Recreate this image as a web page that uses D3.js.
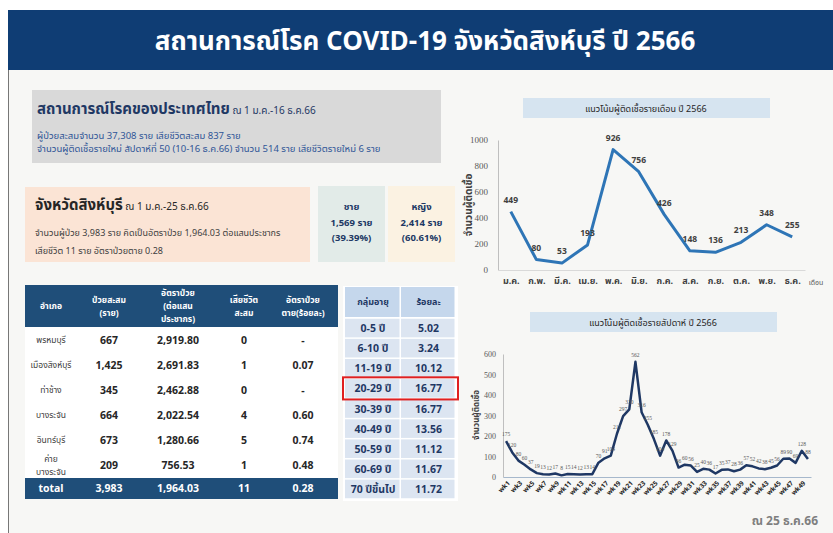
<!DOCTYPE html>
<html>
<head>
<meta charset="utf-8">
<script src="https://cdn.jsdelivr.net/npm/d3@7"></script>
<style>
  body { margin: 0; background: #fff; }
  svg text { font-family: Tahoma, "Noto Sans Thai", "Noto Sans", "DejaVu Sans", sans-serif; }
  .num { font-family: "Liberation Serif", "DejaVu Serif", serif !important; }
</style>
</head>
<body>
<svg id="chart"></svg>
<script>
// Monthly cases 2566
var months = ['ม.ค.','ก.พ.','มี.ค.','เม.ย.','พ.ค.','มิ.ย.','ก.ค.','ส.ค.','ก.ย.','ต.ค.','พ.ย.','ธ.ค.'];
var monthCases = [449, 80, 53, 193, 926, 756, 426, 148, 136, 213, 348, 255];
var monthTicks = [0, 200, 400, 600, 800, 1000];

// Weekly cases 2566
var weeks = ['wk1','wk2','wk3','wk4','wk5','wk6','wk7','wk8','wk9','wk10',
  'wk11','wk12','wk13','wk14','wk15','wk16','wk17','wk18','wk19','wk20',
  'wk21','wk22','wk23','wk24','wk25','wk26','wk27','wk28','wk29','wk30',
  'wk31','wk32','wk33','wk34','wk35','wk36','wk37','wk38','wk39','wk40',
  'wk41','wk42','wk43','wk44','wk45','wk46','wk47','wk48','wk49','wk50'];
var weekCases = [175, 120, 80, 60, 37, 19, 13, 12, 17, 8,
  15, 14, 12, 13, 14, 70, 91, 104, 211, 297,
  330, 562, 316, 255, 185, 104, 178, 129, 46, 60,
  56, 25, 40, 36, 17, 35, 37, 28, 36, 57,
  52, 42, 38, 45, 56, 89, 90, 69, 128, 88];
var weekTicks = [0, 100, 200, 300, 400, 500, 600];

// District table
var tableHead = [['อำเภอ'], ['ป่วยสะสม','(ราย)'], ['อัตราป่วย','(ต่อแสน','ประชากร)'], ['เสียชีวิต','สะสม'], ['อัตราป่วย','ตาย(ร้อยละ)']];
var districts = [['พรหมบุรี'], ['เมืองสิงห์บุรี'], ['ท่าช้าง'], ['บางระจัน'], ['อินทร์บุรี'], ['ค่าย','บางระจัน']];
var districtCases = ['667', '1,425', '345', '664', '673', '209'];
var districtRate = ['2,919.80', '2,691.83', '2,462.88', '2,022.54', '1,280.66', '756.53'];
var districtDeaths = ['0', '1', '0', '4', '5', '1'];
var districtCfr = ['-', '0.07', '-', '0.60', '0.74', '0.48'];
var totalRow = ['total', '3,983', '1,964.03', '11', '0.28'];

// Age table
var ageHead = ['กลุ่มอายุ', 'ร้อยละ'];
var ageGroups = ['0-5 ปี','6-10 ปี','11-19 ปี','20-29 ปี','30-39 ปี','40-49 ปี','50-59 ปี','60-69 ปี','70 ปีขึ้นไป'];
var agePct = ['5.02','3.24','10.12','16.77','16.77','13.56','11.12','11.67','11.72'];
var ageHighlight = '20-29 ปี';

var width = 833, height = 533;
var navy = '#1f4e79';

var svg = d3.select('#chart')
    .attr('width', width)
    .attr('height', height);

// Slide background + title bar
svg.append('rect').attr('width', width).attr('height', height).attr('fill', '#fff');
svg.append('rect').attr('x', 8).attr('y', 10).attr('width', width - 8).attr('height', height - 10).attr('fill', '#f7f7f5');
svg.append('line').attr('x1', 8.5).attr('x2', 8.5).attr('y1', 10).attr('y2', height).attr('stroke', '#777').attr('stroke-width', 1);
svg.append('rect').attr('x', 8).attr('y', 10).attr('width', width - 8).attr('height', 60).attr('fill', '#0f3d74');
svg.append('text')
    .attr('x', 425).attr('y', 50)
    .attr('text-anchor', 'middle')
    .attr('fill', '#fff')
    .attr('font-size', 26).attr('font-weight', 'bold')
    .text('สถานการณ์โรค COVID-19  จังหวัดสิงห์บุรี ปี 2566');

// Thailand box
svg.append('rect').attr('x', 32).attr('y', 90).attr('width', 409).attr('height', 73).attr('fill', '#d9d9d9');
var th = svg.append('text').attr('x', 37).attr('y', 114).attr('fill', '#1f3864');
th.append('tspan').attr('font-size', 15).attr('font-weight', 'bold').text('สถานการณ์โรคของประเทศไทย');
th.append('tspan').attr('font-size', 10).text(' ณ 1 ม.ค.-16 ธ.ค.66');
svg.append('text').attr('x', 37).attr('y', 139).attr('font-size', 9.5).attr('fill', '#2f5597')
    .text('ผู้ป่วยสะสมจำนวน 37,308 ราย เสียชีวิตสะสม 837 ราย');
svg.append('text').attr('x', 37).attr('y', 152).attr('font-size', 9.5).attr('fill', '#2f5597')
    .text('จำนวนผู้ติดเชื้อรายใหม่ สัปดาห์ที่ 50 (10-16 ธ.ค.66) จำนวน 514 ราย เสียชีวิตรายใหม่ 6 ราย');

// Province box
svg.append('rect').attr('x', 25).attr('y', 187).attr('width', 285).attr('height', 75).attr('fill', '#fbe4d5');
var pv = svg.append('text').attr('x', 35).attr('y', 210).attr('fill', '#262626');
pv.append('tspan').attr('font-size', 15).attr('font-weight', 'bold').text('จังหวัดสิงห์บุรี');
pv.append('tspan').attr('font-size', 10).text(' ณ 1 ม.ค.-25 ธ.ค.66');
svg.append('text').attr('x', 35).attr('y', 236).attr('font-size', 9).attr('fill', '#404040')
    .text('จำนวนผู้ป่วย 3,983 ราย คิดเป็นอัตราป่วย 1,964.03  ต่อแสนประชากร');
svg.append('text').attr('x', 35).attr('y', 254).attr('font-size', 9).attr('fill', '#404040')
    .text('เสียชีวิต 11 ราย อัตราป่วยตาย 0.28');

// Sex boxes
var sexBoxes = [
  {x: 318, fill: '#e2ebe8', lines: ['ชาย', '1,569 ราย', '(39.39%)']},
  {x: 388, fill: '#fbf2e2', lines: ['หญิง', '2,414 ราย', '(60.61%)']}
];
sexBoxes.forEach(function(b) {
  svg.append('rect').attr('x', b.x).attr('y', 186).attr('width', 67).attr('height', 76).attr('fill', b.fill);
  var t = svg.append('text').attr('text-anchor', 'middle').attr('fill', '#203864')
      .attr('font-size', 9.5).attr('font-weight', 'bold');
  b.lines.forEach(function(l, i) {
    t.append('tspan').attr('x', b.x + 33.5).attr('y', 210 + i * 15.5).text(l);
  });
});

// District table
var colX = [51, 109, 178, 244, 303];
svg.append('rect').attr('x', 25).attr('y', 285).attr('width', 313).attr('height', 42).attr('fill', navy);
svg.append('rect').attr('x', 25).attr('y', 327).attr('width', 313).attr('height', 151).attr('fill', '#fff');
svg.append('rect').attr('x', 25).attr('y', 478).attr('width', 313).attr('height', 21).attr('fill', navy);

tableHead.forEach(function(lines, i) {
  var t = svg.append('text').attr('text-anchor', 'middle').attr('fill', '#fff')
      .attr('font-size', 8.5).attr('font-weight', 'bold');
  var y0 = 306 - (lines.length - 1) * 6.5;
  lines.forEach(function(l, j) {
    t.append('tspan').attr('x', colX[i]).attr('y', y0 + j * 13 + 3).text(l);
  });
});

var rowY = d3.scaleBand().domain(d3.range(districts.length)).range([327, 478]);
districts.forEach(function(lines, i) {
  var cy = rowY(i) + rowY.bandwidth() / 2;
  var t = svg.append('text').attr('text-anchor', 'middle').attr('fill', '#404040').attr('font-size', 8.5);
  lines.forEach(function(l, j) {
    t.append('tspan').attr('x', colX[0]).attr('y', cy + 3 + (j - (lines.length - 1) / 2) * 13).text(l);
  });
  [districtCases[i], districtRate[i], districtDeaths[i], districtCfr[i]].forEach(function(v, k) {
    svg.append('text').attr('x', colX[k + 1]).attr('y', cy + 4)
        .attr('text-anchor', 'middle').attr('fill', '#262626')
        .attr('font-size', 10.5).attr('font-weight', 'bold').text(v);
  });
});
totalRow.forEach(function(v, k) {
  svg.append('text').attr('x', colX[k]).attr('y', 492)
      .attr('text-anchor', 'middle').attr('fill', '#fff')
      .attr('font-size', 10.5).attr('font-weight', 'bold').text(v);
});

// Age table
var ageX = [345, 401, 456];
var ageY = d3.scaleBand().domain(ageGroups).range([318, 499]);
svg.append('rect').attr('x', 343).attr('y', 286).attr('width', 115).attr('height', 215).attr('fill', '#fff');
ageHead.forEach(function(h, k) {
  svg.append('rect').attr('x', ageX[k]).attr('y', 287).attr('width', ageX[k + 1] - ageX[k] - 1.5).attr('height', 30)
      .attr('fill', '#c5d7ec');
  svg.append('text').attr('x', (ageX[k] + ageX[k + 1]) / 2).attr('y', 305)
      .attr('text-anchor', 'middle').attr('fill', '#1f3864').attr('font-size', 9).attr('font-weight', 'bold').text(h);
});
ageGroups.forEach(function(g, i) {
  var y = ageY(g);
  [g, agePct[i]].forEach(function(v, k) {
    svg.append('rect').attr('x', ageX[k]).attr('y', y + 0.75).attr('width', ageX[k + 1] - ageX[k] - 1.5)
        .attr('height', ageY.bandwidth() - 1.5).attr('fill', '#dce5f1');
    svg.append('text').attr('x', (ageX[k] + ageX[k + 1]) / 2).attr('y', y + ageY.bandwidth() / 2 + 4)
        .attr('text-anchor', 'middle').attr('fill', '#1f3864').attr('font-size', 10.5).attr('font-weight', 'bold').text(v);
  });
});
svg.append('rect').attr('x', 343).attr('y', ageY(ageHighlight) - 1).attr('width', 115).attr('height', ageY.bandwidth() + 2)
    .attr('fill', 'none').attr('stroke', '#e02020').attr('stroke-width', 2);

// ---------- Monthly chart ----------
svg.append('rect').attr('x', 523).attr('y', 98).attr('width', 247).attr('height', 20).attr('fill', '#d6e4f0');
svg.append('text').attr('x', 646).attr('y', 112).attr('text-anchor', 'middle').attr('font-size', 9)
    .attr('fill', '#262626').text('แนวโน้มผู้ติดเชื้อรายเดือน ปี 2566');

var xM = d3.scalePoint().domain(months).range([498, 805]).padding(0.5);
var yM = d3.scaleLinear().domain([0, 1000]).range([270, 140]);

var gMy = svg.append('g').attr('transform', 'translate(498,0)')
    .call(d3.axisLeft(yM).tickValues(monthTicks).tickFormat(d3.format('d')).tickSize(0).tickPadding(10));
gMy.select('.domain').attr('stroke', '#bfbfbf');
gMy.selectAll('text').attr('class', 'num').attr('font-size', 9).attr('fill', '#595959');

var gMx = svg.append('g').attr('transform', 'translate(0,270)')
    .call(d3.axisBottom(xM).tickSize(0).tickPadding(8));
gMx.select('.domain').attr('stroke', '#d9d9d9');
gMx.selectAll('text').attr('font-size', 9).attr('font-weight', 'bold').attr('fill', '#404040');
svg.append('text').attr('x', 816).attr('y', 285).attr('text-anchor', 'middle').attr('font-size', 7)
    .attr('fill', '#595959').text('เดือน');
svg.append('text').attr('transform', 'translate(472,205) rotate(-90)').attr('text-anchor', 'middle')
    .attr('font-size', 10).attr('font-weight', 'bold').attr('fill', '#404040').text('จำนวนผู้ติดเชื้อ');

svg.append('path')
    .datum(monthCases)
    .attr('fill', 'none').attr('stroke', '#2e75b6').attr('stroke-width', 3).attr('stroke-linejoin', 'round')
    .attr('d', d3.line().x(function(d, i) { return xM(months[i]); }).y(function(d) { return yM(d); }));
svg.selectAll('.mlab').data(monthCases).enter().append('text')
    .attr('class', 'mlab')
    .attr('x', function(d, i) { return xM(months[i]); })
    .attr('y', function(d) { return yM(d) - 9; })
    .attr('text-anchor', 'middle').attr('font-size', 8.5).attr('font-weight', 'bold').attr('fill', '#404040')
    .text(function(d) { return d; });

// ---------- Weekly chart ----------
svg.append('rect').attr('x', 530).attr('y', 312).attr('width', 247).attr('height', 20).attr('fill', '#d6e4f0');
svg.append('text').attr('x', 653).attr('y', 326).attr('text-anchor', 'middle').attr('font-size', 9)
    .attr('fill', '#262626').text('แนวโน้มผู้ติดเชื้อรายสัปดาห์ ปี 2566');

var xW = d3.scalePoint().domain(weeks).range([503, 811]).padding(0.5);
var yW = d3.scaleLinear().domain([0, 600]).range([477, 354]);

var gWy = svg.append('g').attr('transform', 'translate(503,0)')
    .call(d3.axisLeft(yW).tickValues(weekTicks).tickSize(0).tickPadding(7));
gWy.select('.domain').attr('stroke', '#bfbfbf');
gWy.selectAll('text').attr('class', 'num').attr('font-size', 8).attr('fill', '#595959');

var gWx = svg.append('g').attr('transform', 'translate(0,477)')
    .call(d3.axisBottom(xW).tickValues(weeks.filter(function(d, i) { return i % 2 === 0; })).tickSize(0).tickPadding(4));
gWx.select('.domain').attr('stroke', '#a6b8cc');
gWx.selectAll('text')
    .attr('font-size', 6.5).attr('font-weight', 'bold').attr('fill', '#262626')
    .attr('text-anchor', 'end')
    .attr('dy', '0.5em')
    .attr('transform', 'rotate(-45) translate(-2,0)');
svg.append('text').attr('transform', 'translate(479,415) rotate(-90)').attr('text-anchor', 'middle')
    .attr('font-size', 8).attr('font-weight', 'bold').attr('fill', '#404040').text('จำนวนผู้ติดเชื้อ');

svg.append('path')
    .datum(weekCases)
    .attr('fill', 'none').attr('stroke', '#1f3864').attr('stroke-width', 2.5).attr('stroke-linejoin', 'round')
    .attr('d', d3.line().x(function(d, i) { return xW(weeks[i]); }).y(function(d) { return yW(d); }));
svg.selectAll('.wlab').data(weekCases).enter().append('text')
    .attr('class', 'wlab num')
    .attr('x', function(d, i) { return xW(weeks[i]); })
    .attr('y', function(d) { return yW(d) - 5; })
    .attr('text-anchor', 'middle').attr('font-size', 5.5).attr('fill', '#595959')
    .text(function(d) { return d; });

// Date stamp
svg.append('text').attr('x', 818).attr('y', 525).attr('text-anchor', 'end')
    .attr('font-size', 12).attr('font-weight', 'bold').attr('fill', '#7f7f7f').text('ณ 25 ธ.ค.66');
</script>
</body>
</html>
